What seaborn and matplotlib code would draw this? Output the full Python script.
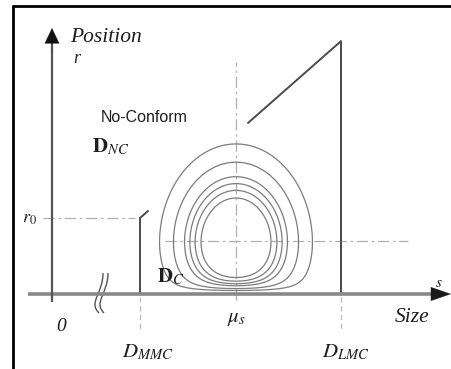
import numpy as np
import pandas as pd
import matplotlib
matplotlib.use("Agg")
import matplotlib.pyplot as plt
import seaborn as sns
from matplotlib.path import Path
from matplotlib.patches import PathPatch
from matplotlib.lines import Line2D

# Tolerance limits along the size axis and the position tolerance
d_mmc = 88.0          # maximum material condition size
d_lmc = 289.0         # least material condition size
mu_s = 184.0          # mean size
r_0 = 76.0            # position tolerance at D_MMC
bonus_slope = 0.88    # extra position tolerance gained per unit of size
boundary_pieces = [(88.0, 96.0), (196.0, 289.0)]

# Joint size / position density
sigma_s = 30.0
pos_center = 46.0
sigma_r = 40.0
pos_floor = 10.14
mu_r = 53.0
contour_levels = [0.039, 0.114, 0.23, 0.307, 0.395, 0.507]

axis_break = 50.0

sns.set_theme(style="white")
plt.rcParams["mathtext.fontset"] = "stix"

fig = plt.figure(figsize=(4.51, 3.69), dpi=100)
ax = fig.add_axes([0, 0, 1, 1])
ax.set_xlim(-52, 399)
ax.set_ylim(-75, 294)
ax.axis("off")

# image frame (top and left edges)
fig.add_artist(Line2D([13 / 451, 1], [1 - 6 / 369, 1 - 6 / 369],
                      transform=fig.transFigure, color="black", lw=2.0))
fig.add_artist(Line2D([13 / 451, 13 / 451], [0, 1 - 6 / 369],
                      transform=fig.transFigure, color="black", lw=2.0))

guide = dict(color="#b0b0b0", lw=0.9, dashes=(9, 3, 2, 3))

# guide lines
ax.plot([mu_s, mu_s], [-6, 232], **guide)
ax.plot([113, 356], [mu_r, mu_r], **guide)
ax.plot([-9, d_mmc - 5], [r_0, r_0], **guide)
for s in (d_mmc, d_lmc):
    ax.plot([s, s], [-3, -36], color="#b8b8b8", lw=0.9, dashes=(4, 3))

# density contours
s_grid = np.linspace(mu_s - 140, mu_s + 140, 500)
r_grid = np.linspace(0.4, 210, 500)
S, R = np.meshgrid(s_grid, r_grid)
q = (R - pos_center) ** 2 / (2 * sigma_r ** 2) + pos_floor / R
q -= q.min()
dens = np.exp(-(S - mu_s) ** 2 / (2 * sigma_s ** 2) - q)
ax.contour(S, R, dens, levels=sorted(contour_levels),
           colors="#7c7c7c", linewidths=0.9)

# conformance boundary
def r_allowed(s):
    return r_0 + bonus_slope * (s - d_mmc)

lo, hi = boundary_pieces
left = pd.DataFrame({"s": [d_mmc, d_mmc, lo[1]],
                     "r": [0, r_0, r_allowed(lo[1])]})
right = pd.DataFrame({"s": [hi[0], d_lmc, d_lmc],
                      "r": [r_allowed(hi[0]), r_allowed(d_lmc), 0]})
for part in (left, right):
    sns.lineplot(data=part, x="s", y="r", sort=False, estimator=None,
                 color="#4a4a4a", lw=1.4, ax=ax)

# size axis: grey shaft with a dark arrow head
ax.plot([-24, 384], [0, 0], color="#888888", lw=2.6, solid_capstyle="butt")
ax.annotate("", xy=(399, 0), xytext=(380, 0),
            arrowprops=dict(arrowstyle="-|>,head_length=1.3,head_width=0.45",
                            mutation_scale=11, color="#1a1a1a", lw=0.1,
                            shrinkA=0, shrinkB=0))
# position axis
ax.plot([0, 0], [-8, 252], color="#555555", lw=1.6, solid_capstyle="butt")
ax.annotate("", xy=(0, 266), xytext=(0, 240),
            arrowprops=dict(arrowstyle="-|>,head_length=1.05,head_width=0.5",
                            mutation_scale=10.5, color="#111111", lw=0.1,
                            shrinkA=0, shrinkB=0))

# axis break marks
b = axis_break
for dx in (0.0, 5.0):
    verts = [(b + 1 + dx, 21), (b + 1 + dx, 0), (b - 14 + dx, -8), (b - 3 + dx, -19)]
    codes = [Path.MOVETO, Path.CURVE4, Path.CURVE4, Path.CURVE4]
    ax.add_patch(PathPatch(Path(verts, codes), facecolor="none",
                           edgecolor="#555555", lw=1.0))

serif = "Liberation Serif"
ink = "#1e1e1e"
ax.text(18, 252, "Position", family=serif, style="italic", fontsize=15.5,
        color=ink, ha="left", va="baseline")
ax.text(21, 231, "r", family=serif, style="italic", fontsize=13,
        color=ink, ha="left", va="baseline")
ax.text(49, 172, "No-Conform", family="Liberation Sans", fontsize=11.5,
        color=ink, ha="left", va="baseline")
ax.text(40, 142, r"$\mathbf{D}_{NC}$", fontsize=15, color=ink,
        ha="left", va="baseline")
ax.text(105, 12, r"$\mathbf{D}_{C}$", fontsize=15, color=ink,
        ha="left", va="baseline")
ax.text(-30, 71, r"$r_0$", fontsize=13, color=ink, ha="left", va="baseline")
ax.text(9, -37, "0", family=serif, style="italic", fontsize=14,
        color=ink, ha="center", va="baseline")
ax.text(70, -63, r"$D_{MMC}$", fontsize=15, color=ink, ha="left", va="baseline")
ax.text(270, -63, r"$D_{LMC}$", fontsize=15, color=ink, ha="left", va="baseline")
ax.text(175, -28, r"$\mu_s$", fontsize=15, color=ink, ha="left", va="baseline")
ax.text(343, -28, "Size", family=serif, style="italic", fontsize=15.5,
        color=ink, ha="left", va="baseline")
ax.text(383, 7, r"$s$", fontsize=11, color=ink, ha="left", va="baseline")

fig.savefig("out.png", dpi=100)
